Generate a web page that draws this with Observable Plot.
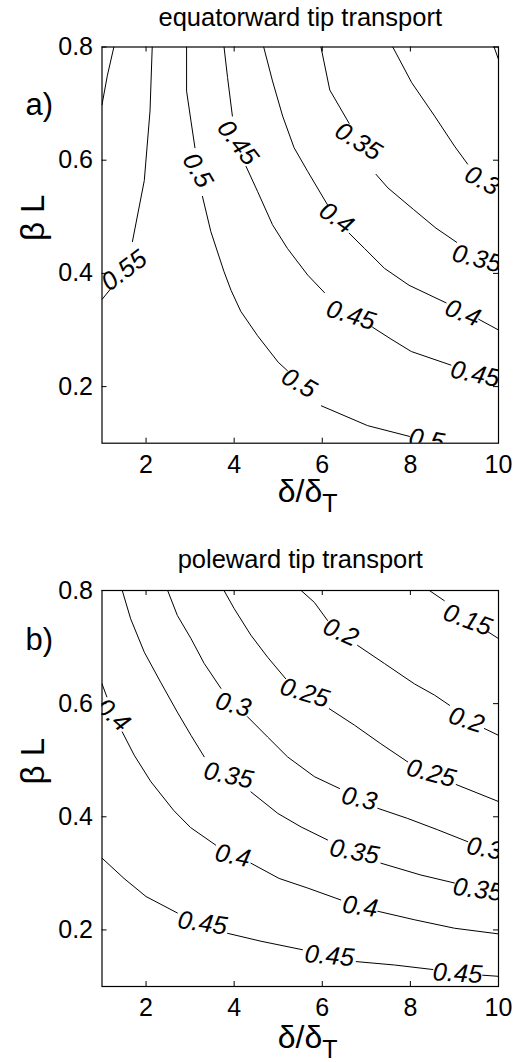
<!DOCTYPE html>
<html>
<head>
<meta charset="utf-8">
<script src="https://cdn.jsdelivr.net/npm/d3@7"></script>
<script src="https://cdn.jsdelivr.net/npm/@observablehq/plot@0.6"></script>
<style>
  html, body { margin: 0; padding: 0; background: white; }
  #chart svg { display: block; }
</style>
</head>
<body>
<div id="chart"></div>
<script>
// ---------- axes ----------
const xTicks = [2, 4, 6, 8, 10];
const yTicks = [0.2, 0.4, 0.6, 0.8];
const xDomain = [1, 10];
const yDomain = [0.1, 0.8];

// ---------- panel a: equatorward tip transport (null = break for a label) ----------
const eqCorner = [[1.27, 0.80], [1.12, 0.749], [1.00, 0.698]];
const eq055 = [[2.14, 0.80], [2.09, 0.687], [1.96, 0.564], [1.69, 0.456], null, [1.23, 0.376], [1.00, 0.354]];
const eq050 = [[2.92, 0.80], [2.92, 0.722], [3.02, 0.669], [3.11, 0.622], null,
  [3.28, 0.536], [3.47, 0.474], [3.77, 0.403], [3.93, 0.370], [4.15, 0.333], [4.53, 0.290], [5.00, 0.243], [5.21, 0.228], null,
  [5.98, 0.166], [7.03, 0.131], [7.98, 0.112]];
const eq045 = [[3.77, 0.80], [3.85, 0.746], [3.96, 0.678], null,
  [4.27, 0.589], [4.53, 0.545], [4.87, 0.486], [5.21, 0.444], [5.67, 0.397], [6.05, 0.366], null,
  [7.14, 0.305], [7.56, 0.284], [8.02, 0.262], [8.92, 0.238]];
const eq040 = [[4.67, 0.80], [4.87, 0.740], [5.10, 0.678], [5.36, 0.622], [5.67, 0.580], [6.12, 0.521], null,
  [6.61, 0.471], [6.96, 0.444], [7.41, 0.409], [7.97, 0.379], [8.81, 0.348], null,
  [9.55, 0.319], [10.0, 0.300]];
const eq035 = [[5.97, 0.80], [6.17, 0.724], [6.61, 0.665], null,
  [7.22, 0.575], [7.49, 0.551], [8.07, 0.513], [8.58, 0.480], [9.05, 0.455]];
const eq030 = [[7.60, 0.80], [8.03, 0.737], [8.55, 0.678], [9.00, 0.625], [9.30, 0.593]];
const eq025 = [[9.90, 0.80], [10.0, 0.778]];

// [x, y, text, angle]
const eqLabels = [
  [1.50, 0.405, "0.55", -37],
  [3.17, 0.582, "0.5", 60],
  [5.47, 0.206, "0.5", 30],
  [8.37, 0.106, "0.5", 10],
  [4.08, 0.631, "0.45", 52],
  [6.65, 0.326, "0.45", 17],
  [9.47, 0.222, "0.45", 12],
  [6.32, 0.498, "0.4", 35],
  [9.19, 0.330, "0.4", 21],
  [6.82, 0.633, "0.35", 32],
  [9.51, 0.426, "0.35", 14],
  [9.63, 0.564, "0.3", 28]
];

// ---------- panel b: poleward tip transport ----------
const pw015 = [[8.43, 0.80], [8.77, 0.782], null, [9.76, 0.727], [10.0, 0.715]];
const pw020 = [[5.52, 0.80], [5.82, 0.779], [6.12, 0.747], null,
  [6.80, 0.703], [7.41, 0.671], [8.09, 0.635], [8.55, 0.615], [8.89, 0.597], null,
  [9.68, 0.556], [10.0, 0.544]];
const pw025 = [[3.77, 0.80], [4.00, 0.768], [4.38, 0.721], [4.76, 0.682], [5.17, 0.644], null,
  [6.16, 0.591], [6.73, 0.562], [7.33, 0.529], [7.94, 0.497], null,
  [9.04, 0.457], [10.0, 0.427]];
const pw030 = [[2.49, 0.80], [2.71, 0.756], [3.02, 0.715], [3.32, 0.671], [3.70, 0.627], null,
  [4.30, 0.577], [4.76, 0.541], [5.21, 0.506], [5.82, 0.471], [6.39, 0.450], null,
  [7.26, 0.415], [7.94, 0.397], [8.62, 0.377], [9.30, 0.356]];
const pw035 = [[1.46, 0.80], [1.65, 0.750], [1.96, 0.691], [2.33, 0.638], [2.71, 0.585], [3.02, 0.544], [3.32, 0.506], null,
  [4.38, 0.444], [4.99, 0.406], [5.52, 0.382], [6.12, 0.359], null,
  [7.33, 0.318], [8.24, 0.297], [9.00, 0.283]];
const pw040 = [[1.00, 0.635], [1.11, 0.612], null,
  [1.46, 0.550], [1.73, 0.509], [2.11, 0.462], [2.63, 0.411], [3.01, 0.381], [3.58, 0.350], null,
  [4.38, 0.318], [5.02, 0.291], [5.67, 0.274], [6.42, 0.253], null,
  [7.26, 0.233], [8.09, 0.218], [9.00, 0.203], [10.0, 0.193]];
const pw045 = [[1.00, 0.327], [1.50, 0.291], [2.00, 0.259], [2.71, 0.230], null,
  [3.85, 0.194], [4.61, 0.180], [5.55, 0.165], null,
  [6.77, 0.144], [7.64, 0.138], [8.51, 0.130], null,
  [9.64, 0.120], [10.0, 0.118]];

const pwLabels = [
  [9.30, 0.748, "0.15", 20],
  [6.42, 0.726, "0.2", 24],
  [9.27, 0.571, "0.2", 18],
  [5.60, 0.619, "0.25", 17],
  [8.47, 0.477, "0.25", 15],
  [3.98, 0.598, "0.3", 15],
  [6.84, 0.432, "0.3", 12],
  [9.68, 0.344, "0.3", 10],
  [3.87, 0.473, "0.35", 12],
  [6.73, 0.338, "0.35", 10],
  [9.53, 0.271, "0.35", 8],
  [1.25, 0.580, "0.4", 42],
  [3.97, 0.331, "0.4", 12],
  [6.86, 0.241, "0.4", 8],
  [3.28, 0.212, "0.45", 8],
  [6.16, 0.154, "0.45", 5],
  [9.07, 0.123, "0.45", 3]
];

// ---------- helpers ----------
function toRows(list) {
  return list.flatMap(([key, pts]) =>
    pts.map(p => p ? {key, x: p[0], y: p[1]} : {key, x: NaN, y: NaN}));
}

const FONT = "'Liberation Sans', Arial, Helvetica, sans-serif";
const fmt = d => String(d);

function panel(o) {
  const W = 515, ML = 101.5, MR = 17;
  const fw = W - ML - MR;
  const fh = o.height - o.marginTop - o.marginBottom;
  const tk = 5;
  return Plot.plot({
    width: W,
    height: o.height,
    marginLeft: ML,
    marginRight: MR,
    marginTop: o.marginTop,
    marginBottom: o.marginBottom,
    x: {domain: xDomain, label: null},
    y: {domain: yDomain, label: null},
    style: {fontFamily: FONT, background: "white", overflow: "visible", color: "black"},
    marks: [
      Plot.line(toRows(o.lines), {x: "x", y: "y", z: "key", stroke: "black", strokeWidth: 1, clip: true}),
      Plot.text(o.labels, {
        x: d => d[0], y: d => d[1], text: d => d[2], rotate: d => d[3],
        fontSize: 25.5, fontStyle: "italic", lineAnchor: "middle", fill: "black", clip: true
      }),
      Plot.tickX(xTicks, {x: d => d, insetTop: fh - tk, stroke: "black"}),
      Plot.tickX(xTicks, {x: d => d, insetBottom: fh - tk, stroke: "black"}),
      Plot.tickY(yTicks, {y: d => d, insetRight: fw - tk, stroke: "black"}),
      Plot.tickY(yTicks, {y: d => d, insetLeft: fw - tk, stroke: "black"}),
      Plot.frame({stroke: "black", strokeWidth: 1.2}),
      Plot.axisX({ticks: xTicks, tickFormat: fmt, tickSize: 0, tickPadding: 12, fontSize: 25, label: null, fill: "black"}),
      Plot.axisY({ticks: yTicks, tickFormat: fmt, tickSize: 0, tickPadding: 9, fontSize: 25, label: null, fill: "black"}),
      Plot.text([o.title], {frameAnchor: "top", dy: o.titleDy, lineAnchor: "bottom", fontSize: 25.5, fill: "black"}),
      Plot.text([o.tag], {frameAnchor: "top-left", textAnchor: "start", dx: -76.5, dy: o.tagDy, lineAnchor: "bottom", fontSize: 31, fill: "black"}),
      Plot.text(["β L"], {frameAnchor: "left", rotate: -90, dx: -58.5, dy: -4, lineAnchor: "bottom", fontSize: 33, fill: "black"}),
      Plot.text(["δ/δ"], {frameAnchor: "bottom", textAnchor: "end", dx: 22, dy: o.xlabDy, lineAnchor: "bottom", fontSize: 32, fill: "black"}),
      Plot.text(["T"], {frameAnchor: "bottom", textAnchor: "start", dx: 22, dy: o.xlabDy + 10, lineAnchor: "bottom", fontSize: 25, fill: "black"})
    ]
  });
}

const chart = document.getElementById("chart");

chart.appendChild(panel({
  title: "equatorward tip transport",
  tag: "a)",
  height: 530, marginTop: 46.5, marginBottom: 87.3,
  titleDy: -21.5, tagDy: 67.5, xlabDy: 59,
  lines: [["corner", eqCorner], ["0.55", eq055], ["0.5", eq050], ["0.45", eq045],
          ["0.4", eq040], ["0.35", eq035], ["0.3", eq030], ["0.25", eq025]],
  labels: eqLabels
}));

chart.appendChild(panel({
  title: "poleward tip transport",
  tag: "b)",
  height: 532, marginTop: 60, marginBottom: 76,
  titleDy: -23, tagDy: 59, xlabDy: 61,
  lines: [["0.15", pw015], ["0.2", pw020], ["0.25", pw025], ["0.3", pw030],
          ["0.35", pw035], ["0.4", pw040], ["0.45", pw045]],
  labels: pwLabels
}));
</script>
</body>
</html>
